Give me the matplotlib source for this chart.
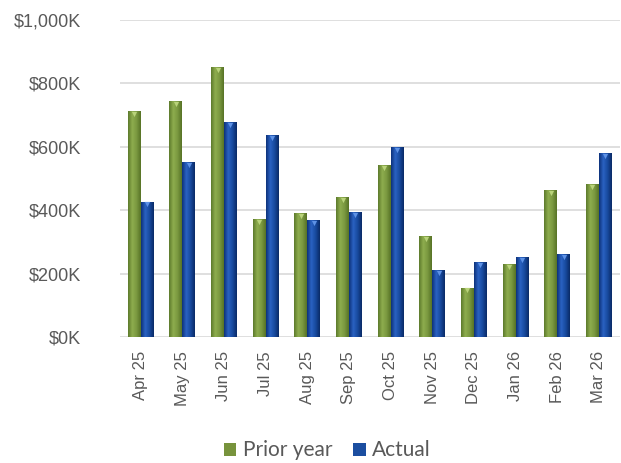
import numpy as np
import matplotlib.pyplot as plt
from matplotlib.colors import LinearSegmentedColormap
from matplotlib.patches import Patch

months = ["Apr 25", "May 25", "Jun 25", "Jul 25", "Aug 25", "Sep 25",
          "Oct 25", "Nov 25", "Dec 25", "Jan 26", "Feb 26", "Mar 26"]
prior_year = [713, 745, 851, 372, 391, 442, 543, 319, 156, 229, 463, 483]
actual = [427, 551, 677, 636, 369, 394, 600, 211, 236, 253, 261, 581]
y_ticks = [0, 200, 400, 600, 800, 1000]
y_labels = ["$0K", "$200K", "$400K", "$600K", "$800K", "$1,000K"]

green = "#77933C"
blue = "#1B4EA0"
green_cmap = LinearSegmentedColormap.from_list("g", ["#5D7A2C", "#8EAD4E", "#7A9840", "#577326"])
blue_cmap = LinearSegmentedColormap.from_list("b", ["#0D327A", "#2A62C2", "#184A9E", "#0A2A66"])

fig = plt.figure(figsize=(6.21, 4.63), dpi=100)
ax = fig.add_axes([0.193, 0.272, 0.805, 0.685])

x = np.arange(len(months))
w = 0.31
grad = np.linspace(0, 1, 64).reshape(1, -1)

def gradient_bars(xs, vals, cmap, tip):
    bars = ax.bar(xs, vals, w, color="none", edgecolor="none", zorder=3)
    for b in bars:
        x0, y0 = b.get_x(), b.get_y()
        im = ax.imshow(grad, cmap=cmap, aspect="auto", zorder=3,
                       extent=[x0, x0 + b.get_width(), y0, y0 + b.get_height()])
        im.set_clip_path(b)
    ax.scatter(xs, np.array(vals) - 9, marker="v", s=14, color=tip,
               linewidths=0, zorder=4)

gradient_bars(x - w / 2, prior_year, green_cmap, "#B9D37A")
gradient_bars(x + w / 2, actual, blue_cmap, "#5E92E6")

ax.set_xlim(-0.5, len(months) - 0.5)
ax.set_ylim(0, 1000)
ax.set_yticks(y_ticks)
ax.set_yticklabels(y_labels)
ax.set_xticks(x)
ax.set_xticklabels(months, rotation=90)
ax.tick_params(length=0, labelcolor="#595959")
ax.tick_params(axis="y", pad=28, labelsize=13)
ax.tick_params(axis="x", pad=10, labelsize=12)
for lab in ax.get_xticklabels() + ax.get_yticklabels():
    lab.set_fontfamily("Liberation Sans")
ax.yaxis.grid(True, color="#D9D9D9", lw=1.2, zorder=0)
ax.set_axisbelow(True)
for s in ax.spines.values():
    s.set_visible(False)

handles = [Patch(facecolor=green, label="Prior year"), Patch(facecolor=blue, label="Actual")]
fig.legend(handles=handles, loc="center", bbox_to_anchor=(0.527, 0.027), ncol=2,
           frameon=False, handlelength=0.6, handleheight=0.6, handletextpad=0.3,
           columnspacing=1.0, prop={"family": "Lato", "size": 15},
           labelcolor="#595959")

fig.savefig("out.png", dpi=100)
